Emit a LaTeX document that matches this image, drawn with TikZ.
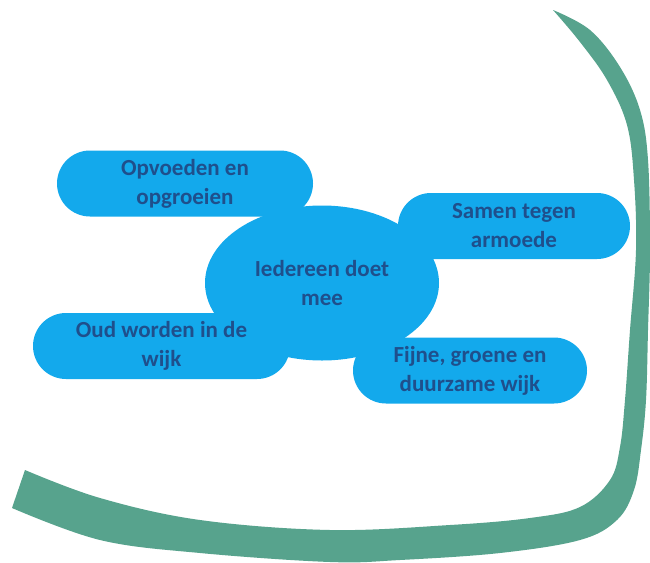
\documentclass[tikz,border=0pt]{standalone}
\usepackage{fontspec}
\setmainfont{Carlito}
\usepackage{xcolor}
\definecolor{wijkblue}{HTML}{13A9EC}
\definecolor{wijktext}{HTML}{1F4F8C}
\definecolor{wijkgreen}{HTML}{57A38D}
\usepackage{tikz}
\usetikzlibrary{shapes.misc,shapes.geometric}

\begin{document}
\begin{tikzpicture}[
      x=1pt, y=-1pt,
      theme/.style={fill=wijkblue, draw=none, inner sep=0pt, align=center,
                    text=wijktext, font=\bfseries\fontsize{23}{29}\selectfont},
      pill/.style={theme, rounded rectangle, minimum height=66pt},
      hub/.style={theme, ellipse, minimum width=234pt, minimum height=155pt}
    ]
    \useasboundingbox (0,0) rectangle (650,562);
    \fill[white] (0,0) rectangle (650,562);
    % green swoosh
    \fill[wijkgreen] plot[smooth, tension=0.6] coordinates {
        (553,10) (590,30) (620,67) (640,110) (648,160) (650,250) (648,330)
        (646,400) (641,450) (634,490) (617,520) (580,540) (500,553) (400,560)
        (330,562) (200,553) (100,540) (12,508)}
      -- plot[smooth, tension=0.6] coordinates {
        (25,470) (100,498) (200,520) (330,530) (450,525) (530,518) (580,507)
        (610,480) (620,447) (625,400) (630,330) (636,250) (634,180) (627,125)
        (607,80) (580,42) (553,10)} -- cycle;
    \node[hub] (ied) at (322,283) {Iedereen doet\\mee};
    \node[pill, minimum width=256pt] (opv) at (185,183.5) {Opvoeden en\\opgroeien};
    \node[pill, minimum width=232pt] (sam) at (514,226) {Samen tegen\\armoede};
    \node[pill, minimum width=257pt] (oud) at (161.5,346) {Oud worden in de\\wijk};
    \node[pill, minimum width=234pt] (fij) at (470,370.5) {Fijne, groene en\\duurzame wijk};
  \end{tikzpicture}
\end{document}
